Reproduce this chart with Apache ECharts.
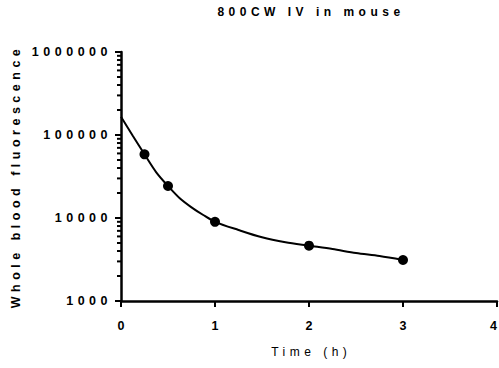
<!DOCTYPE html>
<html>
<head>
<meta charset="utf-8">
<script src="https://cdn.jsdelivr.net/npm/echarts@6/dist/echarts.min.js"></script>
<style>
    html, body { margin: 0; padding: 0; background: #fff; }
    #chart { width: 499px; height: 368px; }
    #chart text { letter-spacing: 4.5px; }
    /* rótulos do eixo x (um dígito só) sem espaçamento */
    #chart text[style*="Arimo"], #chart text[font-family*="Arimo"] { letter-spacing: 0; }
</style>
</head>
<body>
<div id="chart"></div>
<script>
    // pontos medidos (tempo em horas, fluorescência)
    const tempos = [0.25, 0.5, 1, 2, 3];
    const fluorescencia = [58500, 24300, 9000, 4640, 3120];

    // curva ajustada
    const curvaX = [0, 0.125, 0.25, 0.375, 0.5, 0.625, 0.75, 0.875, 1, 1.25, 1.5, 1.75, 2, 2.25, 2.5, 2.75, 3];
    const curvaY = [166000, 98000, 58500, 35500, 24300, 17300, 13450, 10870, 9000, 7170, 5850, 5100, 4640, 4230, 3780, 3480, 3120];

    // ticks menores do eixo log
    const ticksMenores = [];
    [1000, 10000, 100000].forEach(dec => {
        for (let k = 2; k <= 9; k++) ticksMenores.push(dec * k);
    });

    const fonte = '"Liberation Sans", Arial, Helvetica, sans-serif';
    const fonteX = 'Arimo, "Liberation Sans", Arial, sans-serif';

    const chart = echarts.init(document.getElementById('chart'), null, { renderer: 'svg' });

    chart.setOption({
        animation: false,
        title: {
            text: '800CW IV in mouse',
            left: 311,
            top: 6,
            padding: 0,
            textAlign: 'center',
            textStyle: { fontFamily: fonte, fontWeight: 'bold', fontSize: 12, color: '#000' }
        },
        grid: { left: 121, right: 2, top: 52, bottom: 67, containLabel: false, outerBoundsMode: 'none' },
        xAxis: {
            type: 'value',
            min: 0,
            max: 4,
            interval: 1,
            name: 'Time (h)',
            nameLocation: 'middle',
            nameGap: 45,
            nameTextStyle: { fontFamily: fonte, fontSize: 12, color: '#000', padding: [0, 0, 0, 4.5] },
            axisLine: { onZero: false, lineStyle: { color: '#000', width: 2.5 } },
            axisTick: { length: 6, lineStyle: { color: '#000', width: 2 } },
            axisLabel: {
                margin: 18,
                fontFamily: fonteX,
                fontWeight: 'bold',
                fontSize: 12.5,
                color: '#000',
                alignMaxLabel: 'right'
            },
            splitLine: { show: false }
        },
        yAxis: {
            type: 'log',
            logBase: 10,
            min: 1000,
            max: 1000000,
            name: 'Whole blood fluorescence',
            nameLocation: 'middle',
            nameGap: 99,
            nameTextStyle: { fontFamily: fonte, fontWeight: 'bold', fontSize: 12.5, color: '#000' },
            axisLine: { show: true, lineStyle: { color: '#000', width: 2.5 } },
            axisTick: { length: 6, lineStyle: { color: '#000', width: 2 } },
            axisLabel: {
                margin: 9,
                fontFamily: fonte,
                fontWeight: 'bold',
                fontSize: 12.5,
                color: '#000',
                formatter: v => String(Math.round(v))
            },
            splitLine: { show: false }
        },
        series: [
            {
                type: 'custom',
                silent: true,
                clip: false,
                z: 5,
                encode: { x: 0, y: 1 },
                data: ticksMenores.map(v => [0, v]),
                renderItem: (params, api) => {
                    const p = api.coord([api.value(0), api.value(1)]);
                    return {
                        type: 'line',
                        shape: { x1: p[0] - 4, y1: p[1], x2: p[0], y2: p[1] },
                        style: { stroke: '#000', lineWidth: 2 }
                    };
                }
            },
            {
                name: 'Ajuste',
                type: 'line',
                smooth: 0.3,
                symbol: 'none',
                lineStyle: { color: '#000', width: 2 },
                data: curvaX.map((x, i) => [x, curvaY[i]])
            },
            {
                name: 'Dados',
                type: 'scatter',
                symbol: 'circle',
                symbolSize: 10,
                itemStyle: { color: '#000', opacity: 1 },
                data: tempos.map((t, i) => [t, fluorescencia[i]])
            }
        ]
    });
</script>
</body>
</html>
